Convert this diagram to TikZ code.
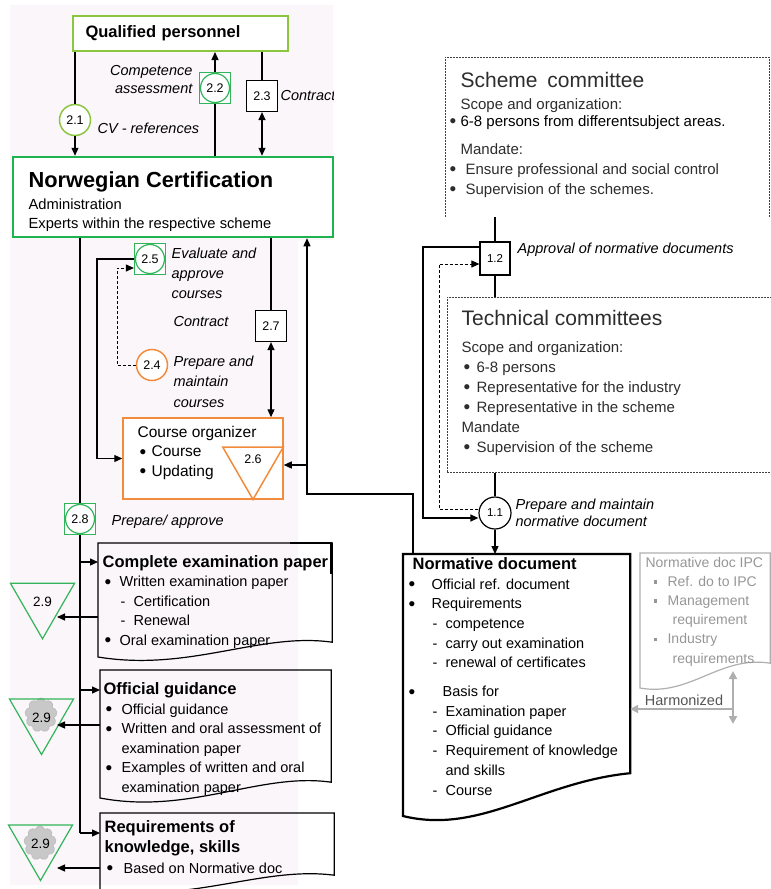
\documentclass[tikz,border=0pt]{standalone}
\usepackage{fontspec}
\setmainfont{Liberation Sans}
\usetikzlibrary{arrows.meta,shapes.geometric,shapes.symbols}
\definecolor{lgreen}{RGB}{140,198,63}
\definecolor{dgreen}{RGB}{30,178,80}
\definecolor{mgreen}{RGB}{50,180,90}
\definecolor{orng}{RGB}{242,140,60}
\definecolor{bgpink}{RGB}{250,246,250}
\definecolor{cgray}{RGB}{200,200,200}
\definecolor{lgray}{RGB}{175,175,175}
\definecolor{tgray}{RGB}{150,150,150}
\definecolor{hgray}{RGB}{85,85,85}
\definecolor{dtext}{RGB}{45,45,45}
\newcommand{\bodyf}{\fontsize{14.5}{19.5}\selectfont}
\newcommand{\itf}{\fontsize{14.5}{20}\selectfont\itshape}
\newcommand{\dtitf}{\fontsize{16.5}{19.5}\selectfont\bfseries}
\newcommand{\bul}[1][16pt]{\makebox[#1][l]{\hspace{2pt}\raisebox{-1.5pt}{\fontsize{19}{19}\selectfont\textbullet}}}
\newcommand{\dsh}{\makebox[13pt][l]{-}}
\newcommand{\sqb}{\makebox[14pt][l]{\raisebox{2.5pt}{\rule{3.5pt}{3.5pt}}}}
\begin{document}
\begin{tikzpicture}[x=1pt,y=-1pt,line width=1.2pt,
  arr/.style={-{Triangle[length=8pt,width=7pt]}},
  arrs/.style={{Triangle[length=8pt,width=7pt]}-{Triangle[length=8pt,width=7pt]}},
  garr/.style={draw=lgray,line width=2pt,-{Triangle[length=8pt,width=8pt]}},
  garrs/.style={draw=lgray,line width=2pt,{Triangle[length=8pt,width=8pt]}-{Triangle[length=8pt,width=8pt]}},
  dashline/.style={dash pattern=on 3pt off 2pt,line width=1pt},
  num/.style={font=\fontsize{12.5}{13}\selectfont,inner sep=0pt},
  sqcirc/.style={draw=mgreen,fill=white,minimum size=31pt,inner sep=0pt,num,
    path picture={\draw[mgreen,line width=1.2pt] (path picture bounding box.center) circle (14.5pt);}},
  rcirc/.style={circle,fill=white,minimum size=31pt,inner sep=0pt,num},
  nbox/.style={draw,fill=white,minimum size=31pt,inner sep=0pt,num},
  tri/.style={regular polygon,regular polygon sides=3,shape border rotate=180,draw=mgreen,
    minimum size=74pt,inner sep=0pt,num,font=\fontsize{13.5}{14}\selectfont},
  lbl/.style={font=\itf,inner sep=0pt,align=left},
  txt/.style={font=\bodyf,inner sep=0pt,align=left,anchor=base west},
  cmt/.style={draw=black!75,line width=0.9pt,dash pattern=on 2pt off 1pt},
  docbox/.style={anchor=north west,inner sep=0pt}]
\useasboundingbox (0,0) rectangle (771,889);
\fill[bgpink] (10,5) -- (333,5) -- (333,240) -- (298,240) -- (298,885) -- (10,885) -- cycle;

\node (qp) at (180,33.5) [draw=lgreen,line width=2pt,fill=white,minimum width=215pt,minimum height=35pt,text width=189pt,inner xsep=13pt,align=left,font=\fontsize{16.5}{18}\selectfont\bfseries] {Qualified personnel};
\node (nc) at (173,197) [draw=dgreen,line width=2.5pt,fill=white,minimum width=320pt,minimum height=80pt] {};
\node (nct) at (28,187) [txt,font=\fontsize{21.8}{22}\selectfont\bfseries] {Norwegian Certification};
\node (ncb) at (28,228) [txt,font=\fontsize{14.7}{19}\selectfont] {Administration\\Experts within the respective scheme};
\node (c21) at (75,120) [rcirc,draw=lgreen,line width=1.5pt] {2.1};
\node (c22) at (215,88) [sqcirc] {2.2};
\node (c23) at (262,96) [nbox] {2.3};
\node (l21) at (97,133) [lbl,anchor=base west] {CV - references};
\node (l22) at (193,93) [lbl,anchor=base east,align=right,font=\fontsize{14.5}{18}\selectfont\itshape] {Competence\\assessment};
\begin{scope}
\clip (0,0) rectangle (333,240);
\node (l23) at (280,96) [lbl,anchor=west] {Contract};
\end{scope}

\node (c25) at (150,259) [sqcirc] {2.5};
\node (c24) at (152,365) [rcirc,draw=orng,line width=1.5pt] {2.4};
\node (c27) at (271,326) [nbox] {2.7};
\node (l25) at (171,298) [lbl,anchor=base west] {Evaluate and\\approve\\courses};
\node (l27) at (173,322) [lbl,anchor=west] {Contract};
\node (l24) at (173,407) [lbl,anchor=base west,font=\fontsize{14.5}{20.5}\selectfont\itshape] {Prepare and\\maintain\\courses};
\node (co) at (203,458.5) [draw=orng,line width=1.5pt,fill=white,minimum width=160pt,minimum height=81pt] {};
\node (cot) at (137,476) [txt,font=\fontsize{15.5}{19.5}\selectfont] {Course organizer\\\bul[14pt]Course\\\bul[14pt]Updating};
\node (t26) at (253,464.5) [tri,draw=orng,line width=1.5pt,minimum size=70pt] {};
\node (n26) at (253,459) [num] {2.6};
\node (c28) at (80,519) [sqcirc] {2.8};
\node (l28) at (111,522) [lbl,anchor=west] {Prepare/ approve};

\node (d1) at (98,543) [docbox,minimum width=233pt,minimum height=98pt] {};
\draw (d1.south west) -- (d1.north west) -- (d1.north east) -- (d1.south east) .. controls (260,632) and (190,672) .. (98,657) -- cycle;
\draw[line width=2.4pt] (290,543) -- (331,543) -- (331,574);
\node (d1t) at (102,645) [txt] {{\dtitf Complete examination paper}\\\bul[17pt]Written examination paper\\\hspace{18pt}\dsh Certification\\\hspace{18pt}\dsh Renewal\\\bul[17pt]Oral examination paper};
\node (d2) at (100,670) [docbox,minimum width=230pt,minimum height=111pt] {};
\draw (d2.south west) -- (d2.north west) -- (d2.north east) -- (d2.south east) .. controls (260,772) and (190,815) .. (100,798) -- cycle;
\node (d2t) at (103,792) [txt] {{\dtitf Official guidance}\\\bul[18pt]Official guidance\\\bul[18pt]Written and oral assessment of\\\hspace{18pt}examination paper\\\bul[18pt]Examples of written and oral\\\hspace{18pt}examination paper};
\node (d3) at (100,813) [docbox,minimum width=233pt,minimum height=61pt] {};
\draw (d3.south west) -- (d3.north west) -- (d3.north east) -- (d3.south east) .. controls (263,866) and (193,903) .. (100,890) -- cycle;
\node (d3t) at (104,873) [txt,font=\fontsize{14.5}{20.5}\selectfont] {{\dtitf Requirements of}\\{\dtitf knowledge, skills}\\\bul[19pt]Based on Normative doc};

\node (t1) at (42.5,601.75) [tri] {2.9};
\node (g2) at (41,715) [cloud,cloud puffs=9,aspect=1,fill=cgray,draw=black!25,line width=0.8pt,minimum width=32pt,minimum height=34pt,inner sep=0pt] {};
\node (t2) at (41.5,717.5) [tri] {2.9};
\node (g3) at (40,843) [cloud,cloud puffs=9,aspect=1,fill=cgray,draw=black!25,line width=0.8pt,minimum width=32pt,minimum height=34pt,inner sep=0pt] {};
\node (t3) at (40.5,843.5) [tri] {2.9};

\node (sc) at (445,57) [docbox,minimum width=323pt,minimum height=159pt] {};
\draw[cmt] (sc.south west) -- (sc.north west) -- (sc.north east) -- (sc.south east);
\node (sct) at (447,194) [txt,text=dtext,font=\fontsize{15}{20}\selectfont] {\hspace{13pt}{\fontsize{21}{20}\selectfont Scheme\hspace{4pt} committee}\\[2pt]\hspace{13pt}Scope and organization:\\[-3pt]\bul[13pt]{\color{black}6-8 persons from differentsubject areas.}\\[8pt]\hspace{13pt}Mandate:\\\bul[18pt]Ensure professional and social control\\\bul[18pt]Supervision of the schemes.};
\node (tc) at (447,297) [docbox,cmt,fill=white,minimum width=330pt,minimum height=175pt] {};
\node (tct) at (461,452) [txt,text=dtext,font=\fontsize{15}{20}\selectfont] {{\fontsize{21}{20}\selectfont Technical committees}\\[7pt]Scope and organization:\\\bul[15pt]6-8 persons\\\bul[15pt]Representative for the industry\\\bul[15pt]Representative in the scheme\\Mandate\\\bul[15pt]Supervision of the scheme};
\node (c12) at (495,258.5) [nbox,minimum width=30pt,minimum height=33pt,font=\fontsize{11.5}{12}\selectfont] {1.2};
\node (c11) at (495,513) [rcirc,draw,minimum size=32pt,font=\fontsize{11.5}{12}\selectfont] {1.1};
\node (l12) at (517,250) [lbl,anchor=west] {Approval of normative documents};
\node (l11) at (515,513) [lbl,anchor=west,font=\fontsize{14.5}{17}\selectfont\itshape] {Prepare and maintain\\normative document};

\node (nd) at (403,554) [docbox,minimum width=226pt,minimum height=218pt] {};
\filldraw[fill=white,line width=2.2pt] (nd.south west) -- (nd.north west) -- (nd.north east) -- (nd.south east) .. controls (540,782) and (480,835) .. (403,816) -- cycle;
\node (ndt) at (406,795) [txt,font=\fontsize{14.5}{19.7}\selectfont] {\hspace{6pt}{\dtitf Normative document}\\\bul[25pt]Official ref. document\\\bul[25pt]Requirements\\\hspace{26pt}\dsh competence\\\hspace{26pt}\dsh carry out examination\\\hspace{26pt}\dsh renewal of certificates\\[9pt]\bul[36pt]Basis for\\\hspace{26pt}\dsh Examination paper\\\hspace{26pt}\dsh Official guidance\\\hspace{26pt}\dsh Requirement of knowledge\\\hspace{39pt}and skills\\\hspace{26pt}\dsh Course};
\node (ipc) at (640,553) [docbox,minimum width=129pt,minimum height=109pt] {};
\draw[lgray] (ipc.south west) -- (ipc.north west) -- (ipc.north east) -- (ipc.south east) .. controls (720,655) and (690,697) .. (640,688) -- cycle;
\node (ipct) at (645,663) [txt,text=tgray,font=\fontsize{14}{19.2}\selectfont] {Normative doc IPC\\\hspace{8pt}\sqb Ref. do to IPC\\\hspace{8pt}\sqb Management\\\hspace{27pt}requirement\\\hspace{8pt}\sqb Industry\\\hspace{27pt}requirements};
\node (hz) at (684,700) [font=\fontsize{14.5}{16}\selectfont,text=hgray,inner sep=0pt] {Harmonized};

\coordinate (k1) at (97,458.5);
\coordinate (k2) at (117,268);
\coordinate (k3) at (307,494);
\coordinate (k4) at (413,494);
\coordinate (k5) at (307,465);
\coordinate (k6) at (80,833);
\coordinate (b1) at (80,562);
\coordinate (b2) at (80,690);
\coordinate (e1) at (57,617);
\coordinate (e2) at (57,725);
\coordinate (e3) at (57,868);
\coordinate (k7) at (423,247);
\coordinate (k8) at (423,518);
\coordinate (k9) at (439,509);
\coordinate (k10) at (439,264);
\coordinate (h1) at (733,709);
\coordinate (h2) at (733,671);
\coordinate (h3) at (733,724);

\draw[arr] (qp.south -| c21) -- (c21) -- (nc.north -| c21);
\draw[arr] (nc.north -| c22) -- (c22) -- (qp.south -| c22);
\draw[arrs] (qp.south -| c23) -- (c23) -- (nc.north -| c23);
\draw[arr] (c25.west) -| (k1) -- (co.west);
\draw[arr,dashline] (c24.west) -| (k2) -- (c25.west |- k2);
\draw[arrs] (nc.south -| c27) -- (c27) -- (co.north -| c27);
\draw[arr] (k4 |- nd.north) -- (k4) -- (k3) -- (k3 |- nc.south);
\draw[arr] (k5) -- (co.east |- k5);
\draw (nc.south -| c28) -- (c28) -- (k6);
\draw[arr] (b1) -- (b1 -| d1.west);
\draw[arr] (b2) -- (b2 -| d2.west);
\draw[arr] (k6) -- (k6 -| d3.west);
\draw[arr] (d1.west |- e1) -- (e1);
\draw[arr] (d2.west |- e2) -- (e2);
\draw[arr] (d3.west |- e3) -- (e3);
\draw (sc.south -| c12) -- (c12) -- (tc.north -| c12);
\draw (tc.south -| c11) -- (c11);
\draw[arr] (c11) -- (nd.north -| c11);
\draw[arr] (c12.west |- k7) -- (k7) -- (k8) -- (c11.west |- k8);
\draw[arr,dashline] (c11.west |- k9) -- (k9) -- (k10) -- (c12.west |- k10);
\draw[garr] (h1) -- (h1 -| nd.east);
\draw[garrs] (h2) -- (h3);
\end{tikzpicture}
\end{document}
